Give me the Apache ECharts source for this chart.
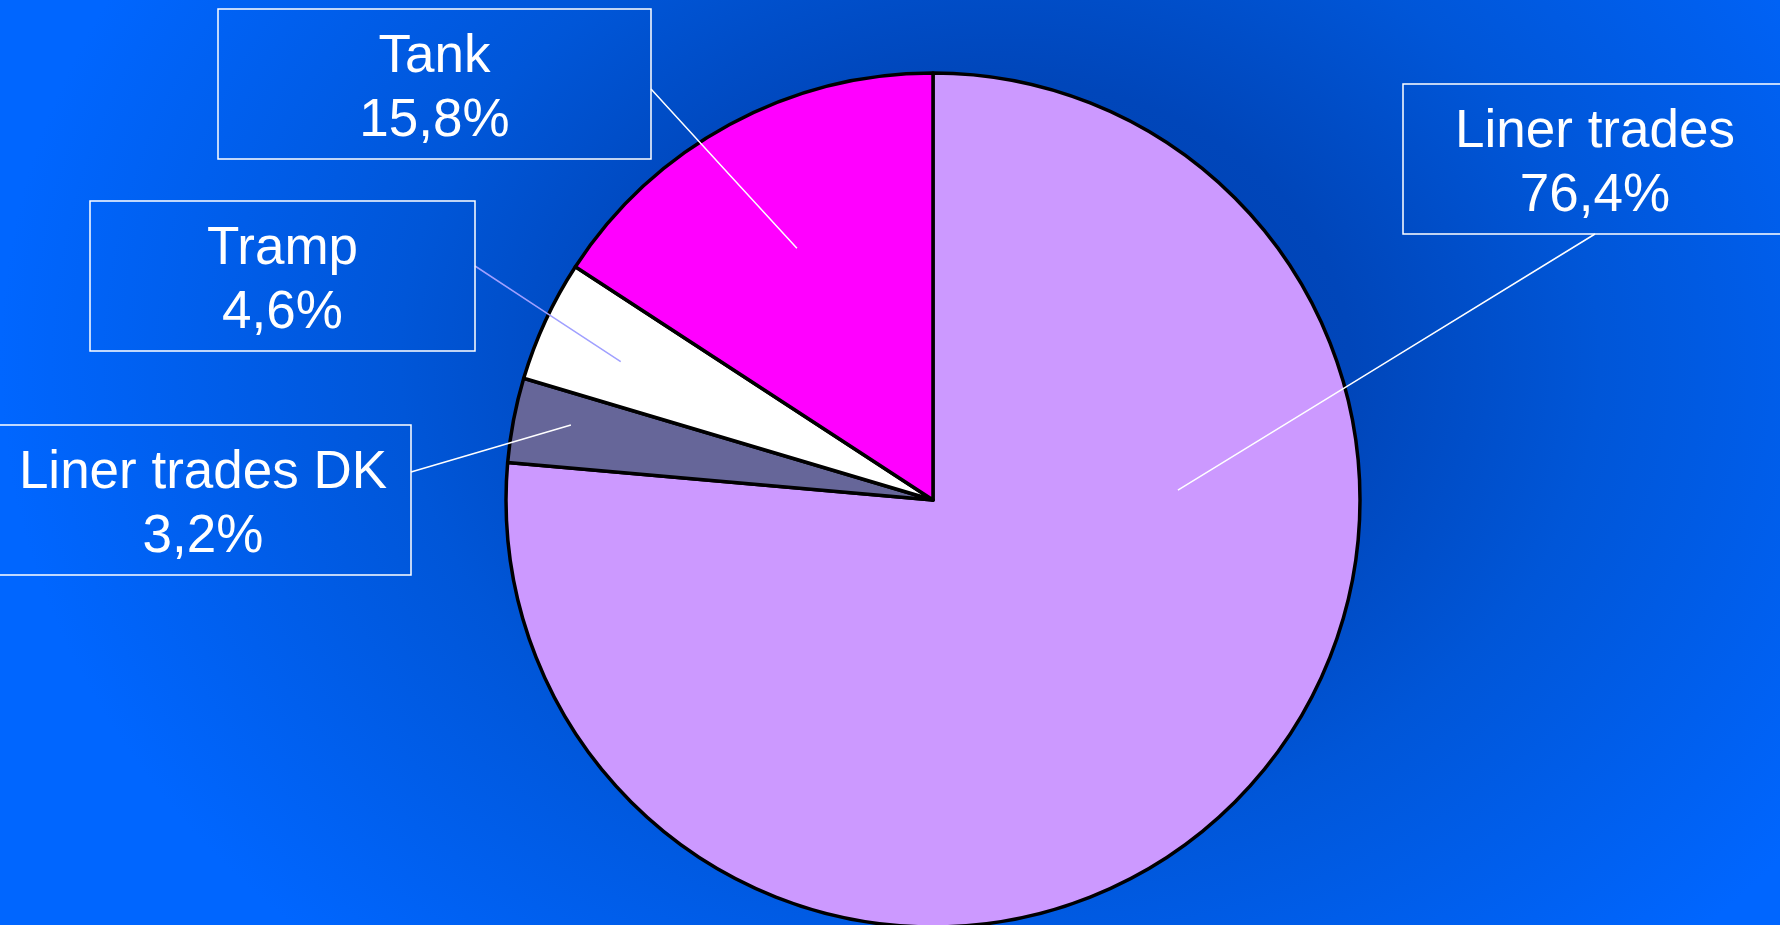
<!DOCTYPE html>
<html>
<head>
<meta charset="utf-8">
<script src="https://cdn.jsdelivr.net/npm/echarts@6/dist/echarts.min.js"></script>
<style>
  html, body { margin: 0; padding: 0; width: 1780px; height: 925px; overflow: hidden; }
  body {
    background: radial-gradient(ellipse 1000px 800px at 1000px 360px,
      #003FAE 0%, #0046BA 35%, #0056D8 60%, #0066FF 100%);
  }
  #chart { width: 1780px; height: 925px; }
</style>
</head>
<body>
<div id="chart"></div>
<script>
// ---- data ----
const categories = ['Liner trades', 'Liner trades DK', 'Tramp', 'Tank'];
const shares = [76.4, 3.2, 4.6, 15.8];

// ---- styles / layout (not data) ----
const sliceColors = ['#CC99FF', '#666699', '#FFFFFF', '#FF00FF'];
const lineColors = ['#FFFFFF', '#FFFFFF', '#A0A0FF', '#FFFFFF'];
const PIE_CENTER = [933, 500];
const PIE_R = 427;
// label boxes: center x, top y, width, where the leader leaves the box, anchor inside slice (angle clockwise from 12 o'clock, radius fraction)
const boxes = [
  { cx: 1595, top: 84,  w: 384, exit: 'bottom', ang: 87.7, frac: 0.574 },
  { cx: 203,  top: 425, w: 416, exit: 'right',  ang: 281.7, frac: 0.866, ey: 472 },
  { cx: 282.5, top: 201, w: 385, exit: 'right', ang: 293.9, frac: 0.80, ey: 266 },
  { cx: 434.5, top: 9,  w: 433, exit: 'right',  ang: 331.6, frac: 0.67, ey: 89 }
];
const BOX_H = 150;

function fmt(v) { return v.toFixed(1).replace('.', ',') + '%'; }

const baseSeries = {
  type: 'pie',
  center: PIE_CENTER,
  radius: PIE_R,
  startAngle: 90,
  clockwise: true,
  avoidLabelOverlap: false,
  silent: true,
  emphasis: { disabled: true }
};

// slices (drawn below)
const sliceData = categories.map((name, i) => ({
  name: name,
  value: shares[i],
  itemStyle: { color: sliceColors[i] }
}));

// labels + leader lines (drawn above slices, on an invisible copy of the pie)
const labelData = categories.map((name, i) => ({
  name: name,
  value: shares[i],
  label: { width: boxes[i].w },
  labelLine: { lineStyle: { color: lineColors[i] } }
}));

const chart = echarts.init(document.getElementById('chart'), null, { renderer: 'canvas' });
chart.setOption({
  backgroundColor: 'transparent',
  animation: false,
  series: [
    Object.assign({}, baseSeries, {
      z: 2,
      itemStyle: { borderColor: '#000000', borderWidth: 3.5 },
      label: { show: false },
      labelLine: { show: false },
      data: sliceData
    }),
    Object.assign({}, baseSeries, {
      z: 5,
      itemStyle: { color: 'rgba(0,0,0,0)', borderWidth: 0 },
      label: {
        show: true,
        position: 'outside',
        formatter: p => p.name + '\n' + fmt(p.value),
        color: '#FFFFFF',
        fontFamily: 'Liberation Sans, Arial, sans-serif',
        fontSize: 53,
        lineHeight: 64,
        align: 'center',
        verticalAlign: 'top',
        borderColor: '#FFFFFF',
        borderWidth: 1.5,
        padding: [16, 0, 6, 0],
        overflow: 'none'
      },
      labelLine: { show: true, smooth: false, lineStyle: { width: 1.5 } },
      labelLayout: function (params) {
        const b = boxes[params.dataIndex];
        const a = b.ang * Math.PI / 180;
        const inner = [PIE_CENTER[0] + Math.sin(a) * PIE_R * b.frac,
                       PIE_CENTER[1] - Math.cos(a) * PIE_R * b.frac];
        let edge;
        if (b.exit === 'bottom') edge = [b.cx, b.top + BOX_H];
        else edge = [b.cx + b.w / 2, b.ey];
        const mid = [(edge[0] + inner[0]) / 2, (edge[1] + inner[1]) / 2];
        return {
          x: b.cx,
          y: b.top,
          align: 'center',
          verticalAlign: 'top',
          labelLinePoints: [edge, mid, inner]
        };
      },
      data: labelData
    })
  ]
});
</script>
</body>
</html>
